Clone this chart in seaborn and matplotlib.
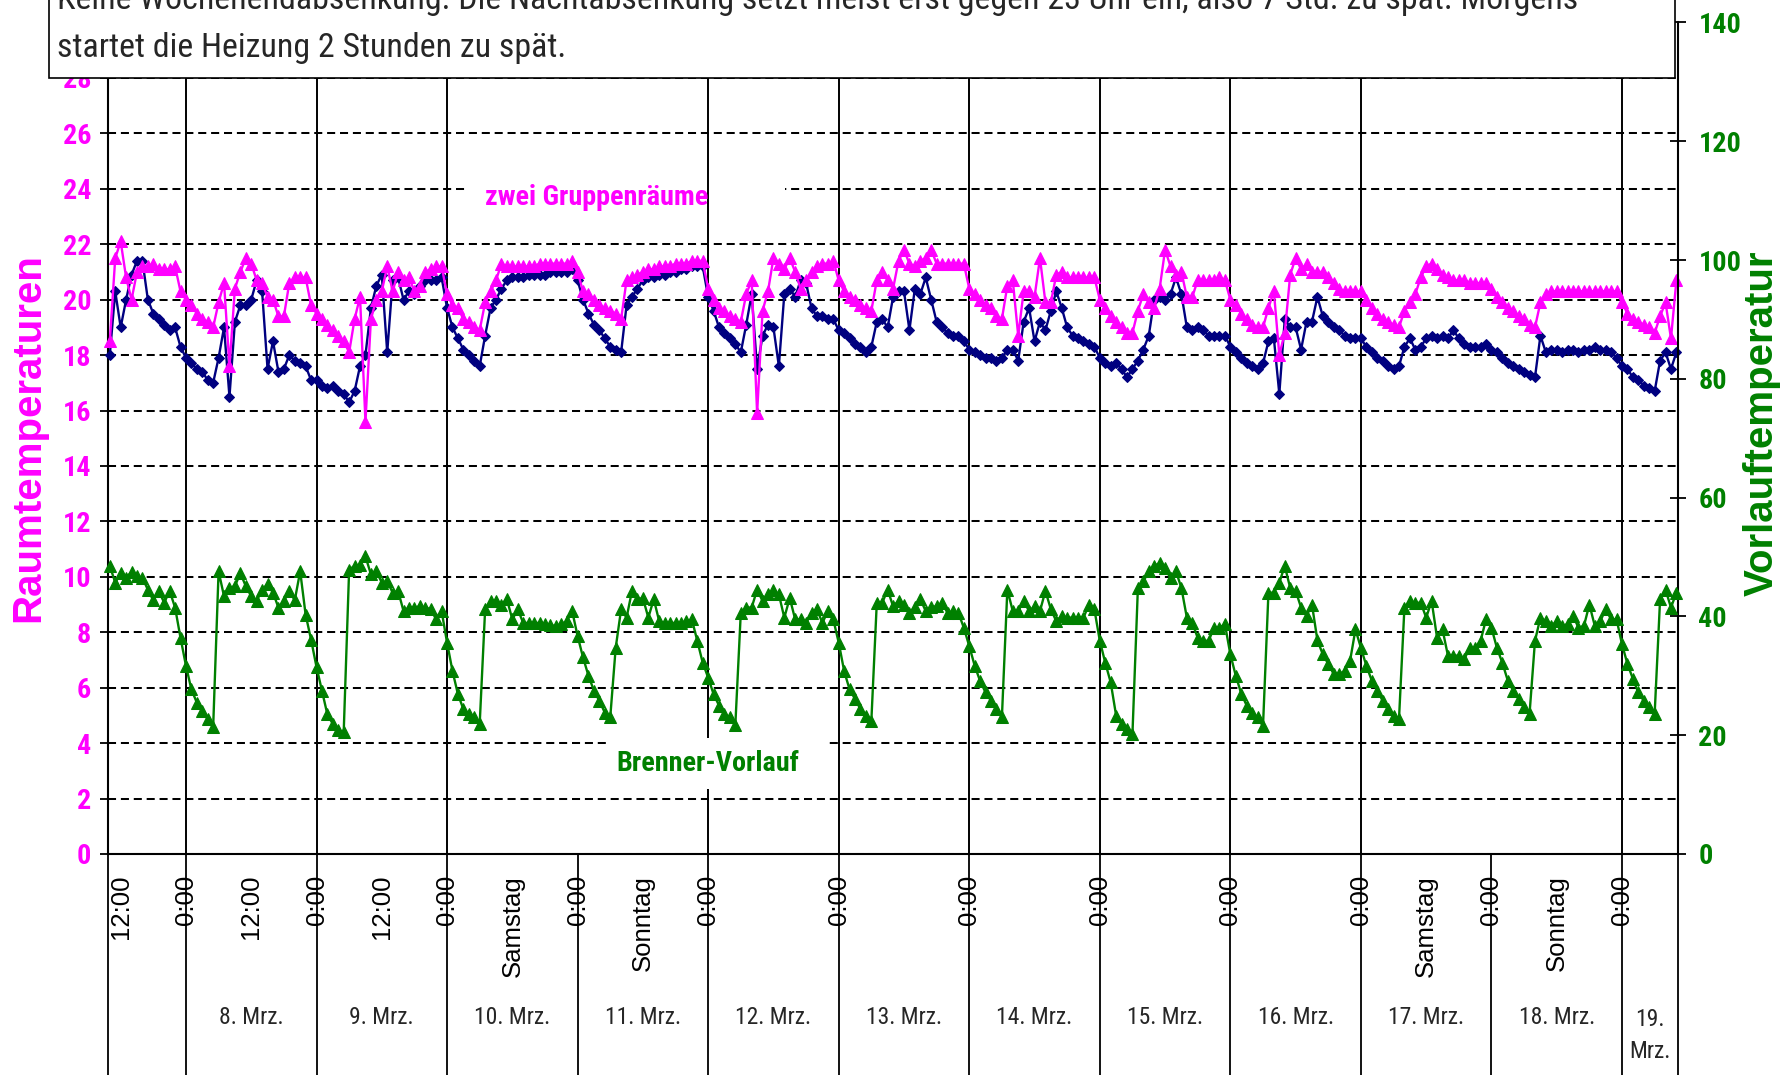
import numpy as np
import matplotlib
matplotlib.use("Agg")
import matplotlib.pyplot as plt
import matplotlib.transforms as mtransforms
from matplotlib import font_manager
from matplotlib.font_manager import FontProperties
from matplotlib.patches import Rectangle
import seaborn as sns

# Stundenwerte ab 7. Mrz. 10:00 Uhr (ein Wert je Stunde)
raum_a = [  # magenta Dreiecke
    18.5, 21.5, 22.1, 20.8, 20.0, 21.0, 21.2, 21.2, 21.3, 21.1, 21.1, 21.1, 21.2, 20.3,
    20.0, 19.8, 19.5, 19.3, 19.2, 19.0, 19.9, 20.6, 17.6, 20.4, 21.0, 21.5, 21.3, 20.7, 20.6, 20.1, 20.0, 19.4, 19.4, 20.6, 20.8, 20.8, 20.8, 19.8,
    19.5, 19.3, 19.1, 18.9, 18.7, 18.5, 18.1, 19.3, 20.1, 15.6, 19.3, 20.0, 20.3, 21.2, 20.3, 21.0, 20.7, 20.8, 20.3, 20.5, 21.0, 21.1, 21.2, 21.2,
    20.2, 19.8, 19.7, 19.3, 19.2, 19.0, 18.9, 19.9, 20.3, 20.7, 21.3, 21.2, 21.2, 21.2, 21.2, 21.2, 21.2, 21.3, 21.3, 21.3, 21.3, 21.3, 21.3, 21.4,
    21.0, 20.3, 20.2, 20.0, 19.8, 19.7, 19.6, 19.5, 19.3, 20.7, 20.8, 20.9, 21.0, 21.1, 21.1, 21.2, 21.2, 21.2, 21.3, 21.3, 21.3, 21.4, 21.4, 21.4,
    20.4, 20.0, 19.7, 19.6, 19.4, 19.3, 19.2, 20.2, 20.7, 15.9, 19.6, 20.3, 21.5, 21.3, 21.1, 21.5, 21.0, 20.4, 20.7, 21.0, 21.2, 21.3, 21.3, 21.4,
    20.7, 20.3, 20.1, 20.0, 19.8, 19.7, 19.6, 20.7, 21.0, 20.7, 20.4, 21.4, 21.8, 21.3, 21.2, 21.4, 21.5, 21.8, 21.3, 21.3, 21.3, 21.3, 21.3, 21.3,
    20.4, 20.2, 20.0, 19.8, 19.7, 19.4, 19.3, 20.5, 20.7, 18.7, 20.3, 20.3, 20.1, 21.5, 19.9, 19.9, 20.9, 21.0, 20.8, 20.8, 20.8, 20.8, 20.8, 20.8,
    20.0, 19.7, 19.4, 19.2, 19.0, 18.8, 18.8, 19.6, 20.2, 19.9, 19.7, 20.4, 21.8, 21.2, 20.9, 21.0, 20.1, 20.1, 20.7, 20.7, 20.7, 20.7, 20.8, 20.7,
    20.0, 19.8, 19.5, 19.3, 19.1, 19.0, 19.0, 19.7, 20.3, 18.0, 18.8, 20.9, 21.5, 21.1, 21.3, 21.0, 21.0, 21.0, 20.8, 20.6, 20.4, 20.3, 20.3, 20.3,
    20.3, 20.0, 19.7, 19.5, 19.3, 19.2, 19.1, 19.0, 19.6, 19.9, 20.2, 20.8, 21.2, 21.3, 21.1, 20.9, 20.8, 20.7, 20.7, 20.7, 20.6, 20.6, 20.6, 20.6,
    20.4, 20.1, 19.9, 19.7, 19.6, 19.4, 19.3, 19.1, 19.0, 19.9, 20.2, 20.3, 20.3, 20.3, 20.3, 20.3, 20.3, 20.3, 20.3, 20.3, 20.3, 20.3, 20.3, 20.3,
    19.9, 19.5, 19.3, 19.2, 19.1, 19.0, 18.8, 19.4, 19.9, 18.6, 20.7,
]
raum_b = [  # dunkelblaue Rauten
    18.0, 20.3, 19.0, 20.0, 20.9, 21.4, 21.4, 20.0, 19.5, 19.3, 19.1, 18.9, 19.0, 18.3,
    17.9, 17.7, 17.5, 17.4, 17.1, 17.0, 17.9, 19.0, 16.5, 19.2, 19.8, 19.8, 20.0, 20.7, 20.3, 17.5, 18.5, 17.4, 17.5, 18.0, 17.8, 17.7, 17.6, 17.1,
    17.1, 16.9, 16.8, 16.9, 16.7, 16.6, 16.3, 16.7, 17.6, 18.0, 19.7, 20.5, 20.9, 18.1, 20.7, 20.8, 20.0, 20.3, 20.2, 20.5, 20.7, 20.7, 20.7, 20.8,
    19.7, 19.0, 18.6, 18.2, 18.0, 17.8, 17.6, 18.7, 19.7, 20.0, 20.4, 20.7, 20.8, 20.8, 20.8, 20.9, 20.9, 20.9, 20.9, 21.0, 21.0, 21.0, 21.0, 21.1,
    20.7, 20.0, 19.5, 19.1, 18.9, 18.6, 18.3, 18.2, 18.1, 19.8, 20.1, 20.4, 20.7, 20.8, 20.8, 20.9, 20.9, 21.0, 21.0, 21.1, 21.1, 21.2, 21.2, 21.2,
    20.1, 19.6, 19.0, 18.8, 18.6, 18.4, 18.1, 19.1, 20.2, 17.5, 18.7, 19.1, 19.0, 17.6, 20.2, 20.4, 20.1, 20.7, 20.6, 19.7, 19.4, 19.4, 19.3, 19.3,
    18.9, 18.8, 18.6, 18.4, 18.3, 18.1, 18.3, 19.2, 19.3, 19.0, 20.1, 20.3, 20.3, 18.9, 20.4, 20.2, 20.8, 20.0, 19.2, 19.0, 18.8, 18.7, 18.7, 18.5,
    18.2, 18.1, 18.0, 17.9, 17.9, 17.8, 17.9, 18.2, 18.2, 17.8, 19.2, 19.7, 18.5, 19.2, 18.9, 19.6, 20.3, 19.7, 19.0, 18.7, 18.6, 18.5, 18.4, 18.3,
    17.9, 17.7, 17.6, 17.7, 17.5, 17.2, 17.5, 17.8, 18.2, 18.7, 20.0, 20.1, 20.0, 20.2, 20.8, 20.2, 19.0, 18.9, 19.0, 18.9, 18.7, 18.7, 18.7, 18.7,
    18.3, 18.1, 17.9, 17.7, 17.6, 17.5, 17.7, 18.5, 18.6, 16.6, 19.3, 19.0, 19.0, 18.2, 19.2, 19.2, 20.1, 19.4, 19.2, 19.0, 18.9, 18.7, 18.6, 18.6,
    18.6, 18.3, 18.1, 17.9, 17.8, 17.6, 17.5, 17.6, 18.3, 18.6, 18.2, 18.3, 18.6, 18.7, 18.6, 18.7, 18.6, 18.9, 18.6, 18.4, 18.3, 18.3, 18.3, 18.4,
    18.2, 18.1, 17.9, 17.7, 17.6, 17.5, 17.4, 17.3, 17.2, 18.7, 18.1, 18.2, 18.2, 18.1, 18.2, 18.2, 18.1, 18.2, 18.2, 18.3, 18.2, 18.2, 18.1, 17.9,
    17.6, 17.5, 17.2, 17.1, 16.9, 16.8, 16.7, 17.8, 18.1, 17.5, 18.1,
]
vorlauf = [  # Brenner-Vorlauf, rechte Achse
    48.5, 45.7, 47.3, 46.5, 47.5, 46.8, 46.5, 44.5, 42.7, 44.3, 42.3, 44.3, 41.5, 36.4,
    31.7, 27.7, 25.5, 24.1, 22.7, 21.3, 47.6, 43.4, 44.8, 45.1, 47.3, 45.1, 43.4, 42.6, 44.5, 45.4, 44.0, 41.5, 42.6, 44.3, 42.7, 47.6, 40.3, 36.1,
    31.5, 27.5, 23.5, 21.9, 20.9, 20.5, 47.9, 48.5, 48.7, 50.1, 47.1, 47.6, 45.7, 45.9, 44.0, 44.3, 40.9, 41.5, 41.5, 41.7, 41.5, 41.2, 39.5, 40.9,
    35.6, 30.8, 26.9, 24.4, 23.5, 23.0, 21.9, 41.2, 42.6, 42.6, 42.0, 42.9, 39.5, 41.2, 38.9, 38.9, 38.9, 38.9, 38.7, 38.5, 38.4, 38.7, 39.2, 40.9,
    36.7, 33.1, 30.0, 27.5, 25.8, 23.8, 23.0, 34.7, 41.2, 39.8, 44.3, 42.9, 43.1, 39.8, 42.9, 39.2, 38.9, 38.9, 38.9, 38.9, 39.2, 39.5, 35.9, 32.2,
    29.7, 26.9, 25.0, 23.5, 23.0, 21.8, 40.6, 41.5, 41.5, 44.5, 42.6, 43.7, 44.4, 43.7, 39.8, 43.1, 39.5, 39.5, 38.9, 40.6, 41.2, 38.9, 40.9, 39.5,
    35.6, 30.8, 27.7, 26.1, 24.4, 23.3, 22.4, 42.3, 42.3, 44.5, 41.7, 42.6, 42.0, 40.6, 41.6, 42.9, 40.9, 41.6, 41.7, 42.3, 40.6, 40.9, 40.6, 38.1,
    35.0, 31.7, 29.1, 27.2, 25.8, 24.4, 23.0, 44.5, 40.9, 40.9, 42.6, 40.9, 41.7, 40.9, 44.3, 41.2, 39.2, 40.1, 39.8, 39.8, 39.8, 39.8, 42.0, 41.2,
    35.9, 32.2, 28.9, 23.3, 21.9, 21.0, 20.2, 44.8, 45.9, 47.6, 48.5, 49.0, 48.2, 46.4, 47.6, 44.8, 39.8, 38.9, 36.4, 35.9, 35.9, 38.1, 38.1, 38.7,
    33.6, 30.0, 27.0, 25.0, 23.8, 23.0, 21.5, 44.0, 44.0, 45.7, 48.5, 44.8, 44.3, 41.5, 40.1, 42.0, 36.0, 33.6, 32.0, 30.3, 30.3, 30.8, 32.5, 37.8,
    34.7, 31.7, 29.2, 27.5, 25.8, 24.4, 23.3, 22.7, 41.5, 42.6, 42.3, 42.3, 39.8, 42.6, 36.4, 37.8, 33.4, 33.4, 33.4, 32.8, 34.7, 34.7, 35.9, 39.5,
    38.1, 34.7, 32.2, 29.2, 27.5, 26.1, 24.7, 23.6, 35.9, 39.8, 39.2, 38.4, 39.2, 38.4, 38.7, 40.1, 38.1, 38.4, 42.0, 38.4, 39.2, 41.2, 39.5, 39.5,
    35.3, 32.0, 29.5, 27.2, 25.8, 24.7, 23.6, 42.9, 44.5, 41.5, 44.0,
]
start_hour = 10  # 7. Mrz. 10:00

tick_hours = [12, 24, 36, 48, 60, 72, 84, 96, 108, 120, 144, 168, 192, 216, 240, 252, 264, 276, 288]
tick_texts = ["12:00", "0:00", "12:00", "0:00", "12:00", "0:00", "Samstag", "0:00", "Sonntag", "0:00",
              "0:00", "0:00", "0:00", "0:00", "0:00", "Samstag", "0:00", "Sonntag", "0:00"]
midnights = [24, 48, 72, 96, 120, 144, 168, 192, 216, 240, 264, 288]
day_lines = [24, 48, 72, 120, 144, 168, 192, 216, 240, 288]
date_texts = ["8. Mrz.", "9. Mrz.", "10. Mrz.", "11. Mrz.", "12. Mrz.", "13. Mrz.",
              "14. Mrz.", "15. Mrz.", "16. Mrz.", "17. Mrz.", "18. Mrz."]
line1 = "Keine Wochenendabsenkung. Die Nachtabsenkung setzt meist erst gegen 23 Uhr ein, also 7 Std. zu spät. Morgens"
line2 = "startet die Heizung 2 Stunden zu spät."
x_min, x_max = 9.67, 298.2

MAG, NAVY, GRN = "#FF00FF", "#000080", "#008000"

sns.set_style("white")
plt.rcParams["font.family"] = ["Liberation Sans", "DejaVu Sans"]


def narrow_face(bold):
    # schmale Schrift suchen (Arial Narrow Ersatz)
    prefs = ["Liberation Sans Narrow", "Arial Narrow", "Roboto Condensed", "Noto Sans",
             "Open Sans", "DejaVu Sans", "Roboto", "Lato", "Inter"]
    best, best_rank = None, 999
    for f in font_manager.fontManager.ttflist:
        st = str(f.stretch)
        cond = ("Narrow" in f.name or "Condensed" in f.name or st in ("condensed", "semi-condensed"))
        if not cond or "Extra" in f.name or "Ultra" in f.name or f.style != "normal":
            continue
        w = f.weight if isinstance(f.weight, int) else font_manager.weight_dict.get(f.weight, 400)
        if bold and w < 600:
            continue
        if not bold and not (350 <= w <= 500):
            continue
        rank = next((i for i, p in enumerate(prefs) if f.name.startswith(p)), 50)
        if rank < best_rank:
            best, best_rank = f, rank
    if best is None:
        return {"family": "Liberation Sans", "weight": "bold" if bold else "normal"}
    return {"fname": best.fname}


reg_face = narrow_face(False)
bold_face = narrow_face(True)

W, H = 1789, 1075
fig = plt.figure(figsize=(W / 100, H / 100), dpi=100)
renderer = fig.canvas.get_renderer()


def fitted(face, size, sample, target_px):
    # Schriftgröße so wählen, dass die Breite der Vorlage entspricht
    t = fig.text(0, 0, sample, fontproperties=FontProperties(size=size, **face))
    w = t.get_window_extent(renderer).width
    t.remove()
    return min(max(target_px / w, 0.78), 1.12)


k_reg = fitted(reg_face, 26.5, line2, 508)
k_bold = fitted(bold_face, 20, "zwei Gruppenräume", 222)


def fp(face, size, k):
    return FontProperties(size=size * k, **face)


ax = fig.add_axes([108 / W, (H - 854) / H, (1677.5 - 108) / W, (854 - 22.5) / H])
ax2 = ax.twinx()

sns.lineplot(x=np.arange(start_hour, start_hour + len(raum_b)), y=raum_b, ax=ax, color=NAVY,
             marker="D", markersize=5.4, mec=NAVY, lw=1.7, clip_on=False, zorder=3)
sns.lineplot(x=np.arange(start_hour, start_hour + len(raum_a)), y=raum_a, ax=ax, color=MAG,
             marker="^", markersize=8.5, mec=MAG, lw=1.7, clip_on=False, zorder=3.2)
sns.lineplot(x=np.arange(start_hour, start_hour + len(vorlauf)), y=vorlauf, ax=ax2, color=GRN,
             marker="^", markersize=8.5, mec=GRN, lw=1.7, clip_on=False, zorder=3)

ax.set_xlim(x_min, x_max)
ax.set_ylim(0, 30)
ax2.set_ylim(0, 140)
ax.set_xlabel("")
ax.set_ylabel("")
ax2.set_ylabel("")

ax.set_yticks(range(0, 29, 2), labels=[str(v) for v in range(0, 29, 2)],
              fontproperties=fp(bold_face, 20, k_bold), color=MAG)
ax.tick_params(axis="y", direction="out", length=6, width=1.3, color="black", pad=6, left=True)
ax2.set_yticks(range(0, 141, 20), labels=[str(v) for v in range(0, 141, 20)],
               fontproperties=fp(bold_face, 20, k_bold), color=GRN)
ax2.tick_params(axis="y", direction="inout", length=12, width=1.3, color="black", pad=9, right=True)
ax.set_xticks(tick_hours, labels=tick_texts, rotation=90, fontsize=18.5, color="black")
ax.tick_params(axis="x", length=0, pad=15)

ax.grid(axis="y", color="black", linestyle=(0, (4.0, 2.4)), linewidth=1.45)
ax.grid(axis="x", visible=False)
ax.set_axisbelow(True)
for h in day_lines:
    ax.axvline(h, color="black", lw=1.4, zorder=2)

for a in (ax, ax2):
    for s in a.spines.values():
        s.set_visible(False)
ax.spines["left"].set_visible(True)
ax.spines["bottom"].set_visible(True)
ax2.spines["right"].set_visible(True)
for s in (ax.spines["left"], ax.spines["bottom"], ax2.spines["right"]):
    s.set_color("black")
    s.set_linewidth(1.5)

# Trennlinien der Datumszeile unter der Achse
trans_sep = mtransforms.blended_transform_factory(ax.transData, ax.transAxes)
ax.vlines(midnights + [x_min, x_max], -0.3, 0, transform=trans_sep, color="black", lw=1.3, clip_on=False)

trans_date = mtransforms.blended_transform_factory(ax.transData, fig.transFigure)
for i, txt in enumerate(date_texts):
    ax.text(36 + 24 * i, 1 - 1018 / H, txt, transform=trans_date, ha="center", va="center",
            fontproperties=fp(reg_face, 18.5, k_reg), clip_on=False)
ax.text((288 + x_max) / 2, 1 - 1036 / H, "19.\nMrz.", transform=trans_date, ha="center", va="center",
        fontproperties=fp(reg_face, 18.5, k_reg), linespacing=1.5, clip_on=False)

# Beschriftungen im Diagramm
ax.add_patch(Rectangle((75.8, 23.0), 58.3, 1.8, facecolor="white", edgecolor="none", zorder=1.5))
ax.text(79, 23.7, "zwei Gruppenräume", color=MAG, fontproperties=fp(bold_face, 20, k_bold),
        ha="left", va="center", zorder=4)
ax2.add_patch(Rectangle((101.6, 10.9), 40.3, 8.7, facecolor="white", edgecolor="none", zorder=1.5))
ax2.text(103.1, 15.2, "Brenner-Vorlauf", color=GRN, fontproperties=fp(bold_face, 20, k_bold),
         ha="left", va="center", zorder=4)

fig.text(28.5 / W, 1 - 437.6 / H, "Raumtemperaturen", rotation=90, ha="center", va="center",
         fontsize=29, fontweight="bold", color=MAG)
fig.text(1762 / W, 1 - 423 / H, "Vorlauftemperatur", rotation=90, ha="center", va="center",
         fontsize=29, fontweight="bold", color=GRN)

# Kommentar-Kasten oben (oben abgeschnitten wie in der Vorlage)
fig.add_artist(Rectangle((49 / W, 1 - 77.6 / H), (1675 - 49) / W, 0.2, transform=fig.transFigure,
                         facecolor="white", edgecolor="black", lw=1.2, zorder=5))
fig.text(57 / W, 1 - 9 / H, line1, ha="left", va="baseline",
         fontproperties=fp(reg_face, 26.5, k_reg), zorder=6)
fig.text(57 / W, 1 - 57 / H, line2, ha="left", va="baseline",
         fontproperties=fp(reg_face, 26.5, k_reg), zorder=6)

fig.savefig("out.png", dpi=100)
